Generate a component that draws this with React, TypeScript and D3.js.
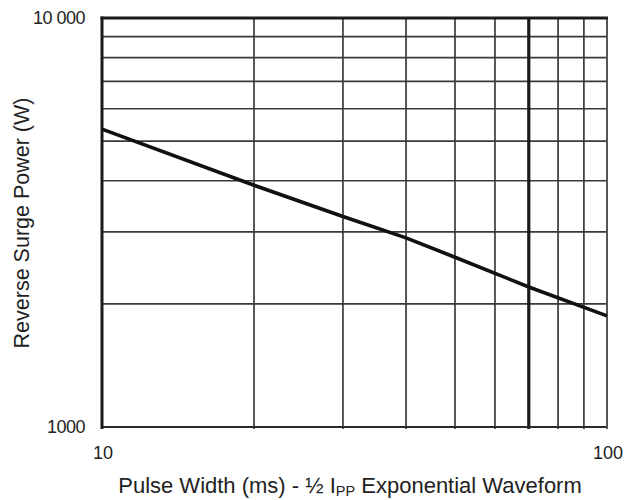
import React from "react";
import * as d3 from "d3";

const pulseWidths = [10, 20, 30, 40, 50, 70, 100];
const surgePower = [5350, 3900, 3270, 2900, 2600, 2200, 1870];
const xGrid = [20, 30, 40, 50, 60, 70, 80, 90];
const yGrid = [2000, 3000, 4000, 5000, 6000, 7000, 8000, 9000];
const xTickLabels = [
  { v: 10, t: "10" },
  { v: 100, t: "100" },
];
const yTickLabels = [
  { v: 1000, t: "1000" },
  { v: 10000, t: "10 000" },
];

const W = 637;
const H = 500;
const L = 102;
const R = 607;
const T = 18;
const B = 427;

export default function App() {
  const x = d3.scaleLog().domain([10, 100]).range([L, R]);
  const y = d3.scaleLog().domain([1000, 10000]).range([B, T]);
  const pts = pulseWidths.map((p, i) => [p, surgePower[i]] as [number, number]);
  const line = d3
    .line<[number, number]>()
    .x((d) => x(d[0]))
    .y((d) => y(d[1]));
  const font = "'Liberation Sans', Arial, sans-serif";
  const ink = "#222";
  return (
    <svg
      width={W}
      height={H}
      style={{ position: "absolute", left: 0, top: 0, background: "#fff" }}
    >
      <rect x={0} y={0} width={W} height={H} fill="#fff" />
      {yGrid.map((v) => (
        <line key={"h" + v} x1={L} x2={R} y1={y(v)} y2={y(v)} stroke="#3a3a3a" strokeWidth={1.7} />
      ))}
      {xGrid.map((v) => (
        <line
          key={"v" + v}
          x1={x(v)}
          x2={x(v)}
          y1={T}
          y2={B + 2}
          stroke={v === 70 ? "#1a1a1a" : "#3a3a3a"}
          strokeWidth={v === 70 ? 3.2 : 1.7}
        />
      ))}
      {/* frame */}
      <line x1={L} x2={R} y1={B} y2={B} stroke="#2a2a2a" strokeWidth={2} />
      <line x1={R} x2={R} y1={T} y2={B + 2} stroke="#555" strokeWidth={2} />
      <line x1={L - 1.5} x2={R + 1} y1={T} y2={T} stroke="#1a1a1a" strokeWidth={3} />
      <line x1={L} x2={L} y1={T - 1.5} y2={B + 2} stroke="#1a1a1a" strokeWidth={3} />
      <path d={line(pts) || ""} fill="none" stroke="#111" strokeWidth={3.6} strokeLinecap="butt" />
      {yTickLabels.map((d) => (
        <text
          key={"yl" + d.v}
          x={85}
          y={y(d.v)}
          dy="0.35em"
          textAnchor="end"
          fontFamily={font}
          fontSize={18}
          fill={ink}
          letterSpacing={-0.5}
        >
          {d.t}
        </text>
      ))}
      {xTickLabels.map((d) => (
        <text
          key={"xl" + d.v}
          x={x(d.v) + 1}
          y={459}
          textAnchor="middle"
          fontFamily={font}
          fontSize={18}
          fill={ink}
        >
          {d.t}
        </text>
      ))}
      <text
        x={350}
        y={493}
        textAnchor="middle"
        fontFamily={font}
        fontSize={22}
        fill={ink}
      >
        Pulse Width (ms) - ½ I
        <tspan fontSize={14.5} dy={3}>PP</tspan>
        <tspan dy={-3}> Exponential Waveform</tspan>
      </text>
      <text
        transform={`translate(29, 223) rotate(-90)`}
        textAnchor="middle"
        fontFamily={font}
        fontSize={21.5}
        fill={ink}
      >
        Reverse Surge Power (W)
      </text>
    </svg>
  );
}
